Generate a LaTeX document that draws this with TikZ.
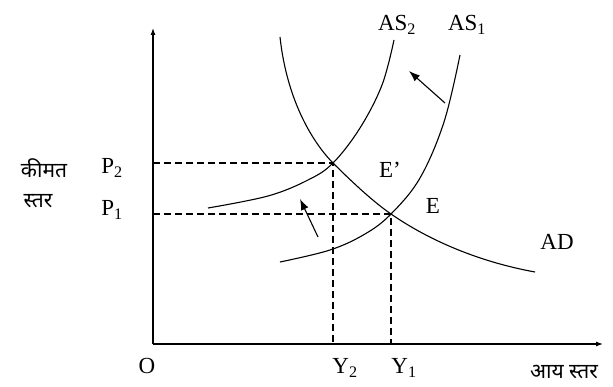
\documentclass[tikz,border=0pt]{standalone}
\usepackage{fontspec}
\setmainfont{Liberation Serif}
\newfontfamily\hindi[Script=Devanagari]{Noto Sans}
\usetikzlibrary{arrows.meta}
\begin{document}
\begin{tikzpicture}[x=1pt,y=-1pt,
  axis/.style={line width=1.1pt,-{Latex[length=7pt,width=5pt]}},
  curve/.style={line width=1.1pt},
  guide/.style={line width=1.2pt,dash pattern=on 7pt off 4pt},
  shiftarrow/.style={line width=1.1pt,-{Latex[length=11pt,width=8pt]}},
  lbl/.style={inner sep=0pt,font=\fontsize{23}{25}\selectfont},
  hlbl/.style={inner sep=0pt,font=\hindi\fontsize{21}{23}\selectfont}]
\useasboundingbox (0,0) rectangle (613,387);
% axes
\coordinate (O) at (153,344);
\coordinate (ytop) at (153,28);
\coordinate (xend) at (603,344);
\draw[axis] (O) -- (ytop);
\draw[axis] (O) -- (xend);
% equilibria
\coordinate (E2) at (333,163);
\coordinate (E1) at (391,214);
\coordinate (P2) at (153,163);
\coordinate (P1) at (153,214);
\coordinate (Y2) at (333,344);
\coordinate (Y1) at (391,344);
\draw[guide] (P2) -- (E2) -- (Y2);
\draw[guide] (P1) -- (E1) -- (Y1);
% curves
\draw[curve] (280,37) .. controls (288,110) and (320,150) .. (E2)
  .. controls (355,185) and (375,203) .. (E1)
  .. controls (430,241) and (480,262) .. (535,272);
\draw[curve] plot[smooth,tension=0.6] coordinates {(208,208) (268,196) (308,180) (E2) (360,128) (382,85) (394,40)};
\draw[curve] plot[smooth,tension=0.6] coordinates {(280,262) (330,250) (365,234) (E1) (420,178) (444,122) (460,55)};
% shift arrows
\coordinate (a1s) at (445,103);
\coordinate (a1e) at (409,71);
\coordinate (a2s) at (318,237);
\coordinate (a2e) at (300,199);
\draw[shiftarrow] (a1s) -- (a1e);
\draw[shiftarrow] (a2s) -- (a2e);
% labels
\node[lbl] (lAS2) at (397,25) {AS$_{\mathrm{2}}$};
\node[lbl] (lAS1) at (467,25) {AS$_{\mathrm{1}}$};
\node[lbl] (lE2) at (390,170) {E'};
\node[lbl] (lE1) at (433,206) {E};
\node[lbl] (lAD) at (557,242) {AD};
\node[lbl] (lP2) at (112,168) {P$_{\mathrm{2}}$};
\node[lbl] (lP1) at (112,210) {P$_{\mathrm{1}}$};
\node[lbl] (lO) at (147,366) {O};
\node[lbl] (lY2) at (345,368) {Y$_{\mathrm{2}}$};
\node[lbl] (lY1) at (404,368) {Y$_{\mathrm{1}}$};
\node[hlbl] (hk) at (44,168) {कीमत};
\node[hlbl] (hs) at (38,201) {स्तर};
\node[hlbl] (ha) at (564,372) {आय स्तर};
\end{tikzpicture}
\end{document}
